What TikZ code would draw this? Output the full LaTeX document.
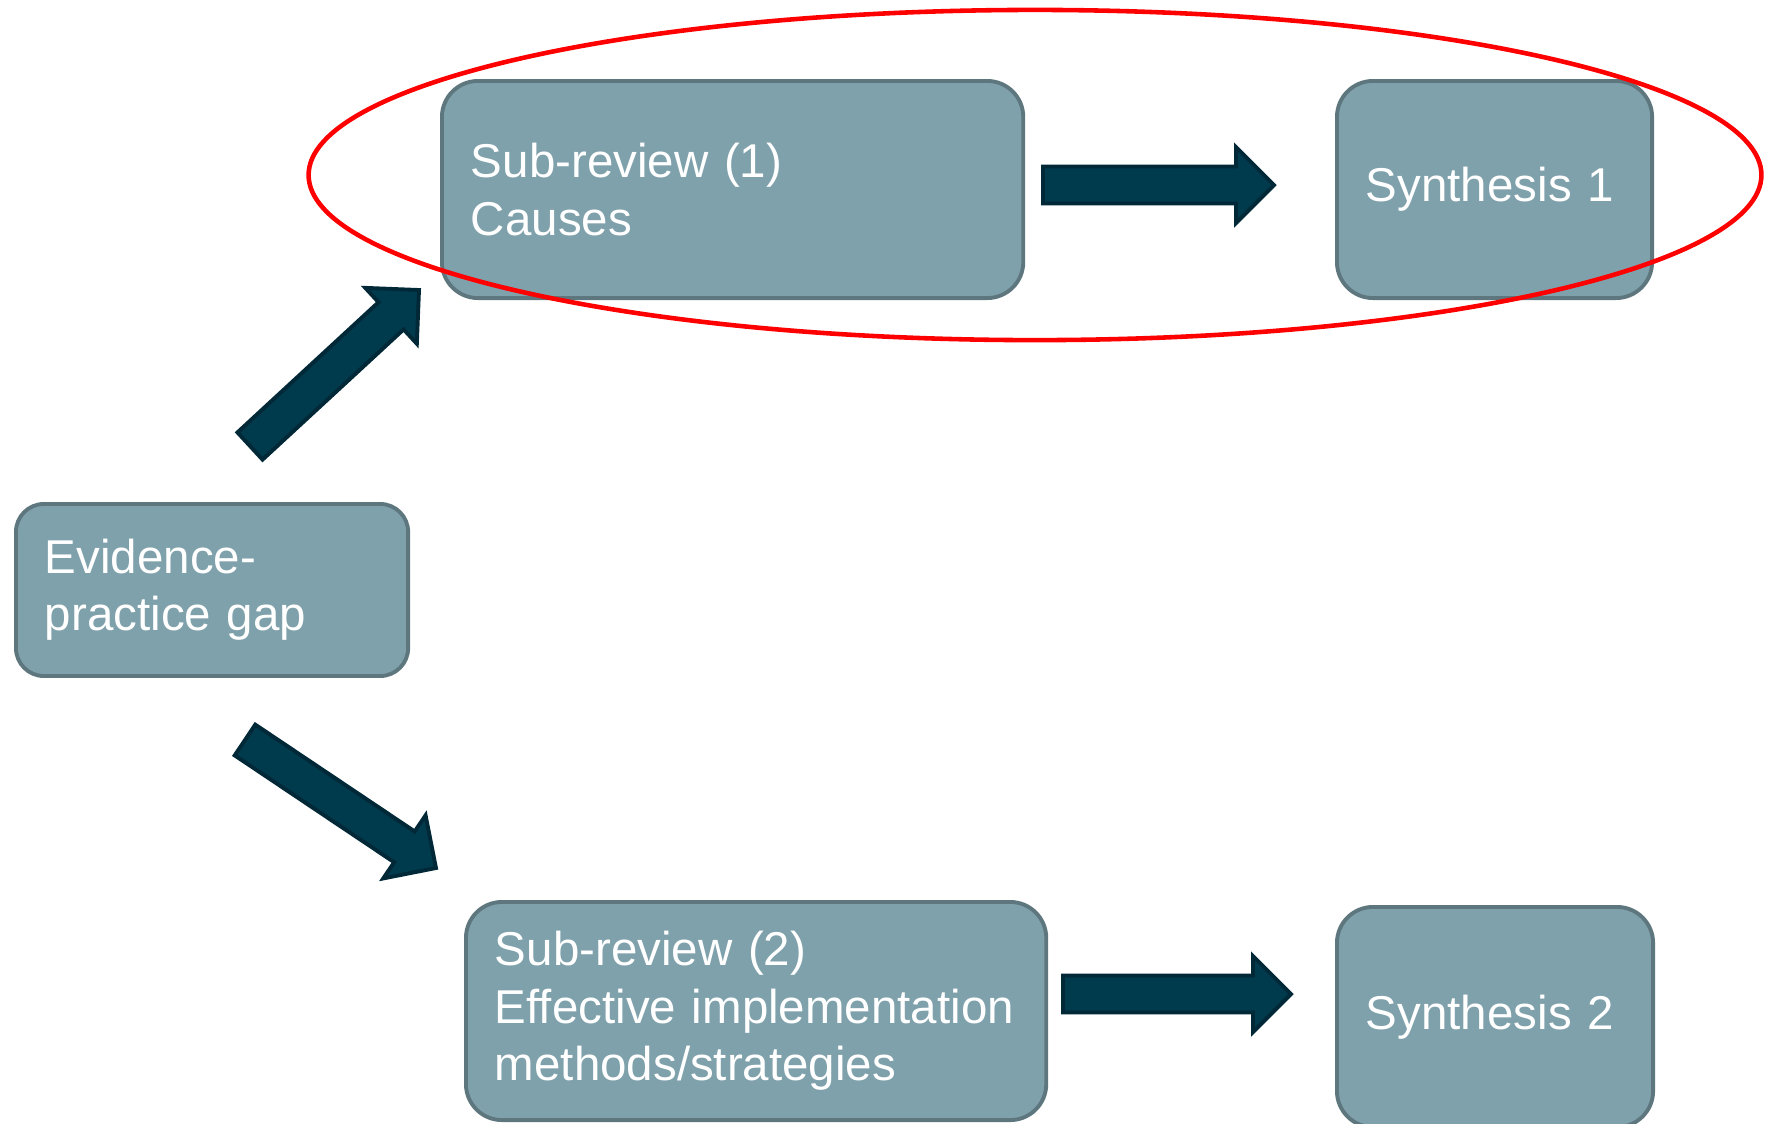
\documentclass[tikz,border=0pt]{standalone}
\usepackage{fontspec}
\setmainfont{Liberation Sans}
\usepackage{tikz}
\usetikzlibrary{calc}
\usetikzlibrary{positioning}

\definecolor{boxfill}{RGB}{127,161,171}
\definecolor{boxline}{RGB}{94,118,126}
\definecolor{arrowfill}{RGB}{0,58,77}
\definecolor{arrowline}{RGB}{0,40,55}

% block arrow from #1 (tail) to #2 (tip)
\newcommand{\fatarrow}[2]{%
    \path ($(#2)!0.38cm!(#1)$) coordinate (hb);
    \draw[fatarrow] ($(#1)!0.185cm!90:(#2)$) -- ($(hb)!0.185cm!90:(#2)$)
        -- ($(hb)!0.38cm!90:(#2)$) -- (#2) -- ($(hb)!0.38cm!-90:(#2)$)
        -- ($(hb)!0.185cm!-90:(#2)$) -- ($(#1)!0.185cm!-90:(#2)$) -- cycle;
}

\begin{document}
\begin{tikzpicture} [
    x=0.01cm, y=-0.01cm,
    box/.style = {draw=boxline, fill=boxfill, line width=1.1pt, rounded corners=0.36cm,
        text=white, align=left, anchor=north west, inner xsep=0.29cm, inner ysep=0pt,
        font=\fontsize{13.5}{16.3}\selectfont},
    fatarrow/.style = {fill=arrowfill, draw=arrowline, line width=1.1pt, line join=miter},
    loop/.style = {draw=red, line width=1.3pt}
]
    \useasboundingbox (0,0) rectangle (1772,1123);

    \node [box, text width=3.34cm, minimum height=1.72cm, rounded corners=0.28cm] (gap) at (14,502) {Evidence-\\practice gap};
    \node [box, text width=5.23cm, minimum height=2.17cm] (sub1) at (440,79) {Sub-review (1)\\Causes};
    \node [box, text width=2.57cm, minimum height=2.17cm] (syn1) at (1335,79) {Synthesis 1};
    \node [box, text width=5.22cm, minimum height=2.18cm] (sub2) at (464,900) {Sub-review (2)\\Effective implementation\\methods/strategies};
    \node [box, text width=2.58cm, minimum height=2.2cm] (syn2) at (1335,905) {Synthesis 2};

    \coordinate (up tail) at (250,446);
    \coordinate (up tip) at (419,290);
    \coordinate (down tail) at (245,740);
    \coordinate (down tip) at (436,868);
    \coordinate (top tail) at (1043,185);
    \coordinate (top tip) at (1274,185);
    \coordinate (low tail) at (1063,994);
    \coordinate (low tip) at (1291,994);

    \fatarrow{up tail}{up tip}
    \fatarrow{down tail}{down tip}
    \fatarrow{top tail}{top tip}
    \fatarrow{low tail}{low tip}

    \draw[loop] (1035,175) ellipse [x radius=7.26cm, y radius=1.65cm];
\end{tikzpicture}
\end{document}
